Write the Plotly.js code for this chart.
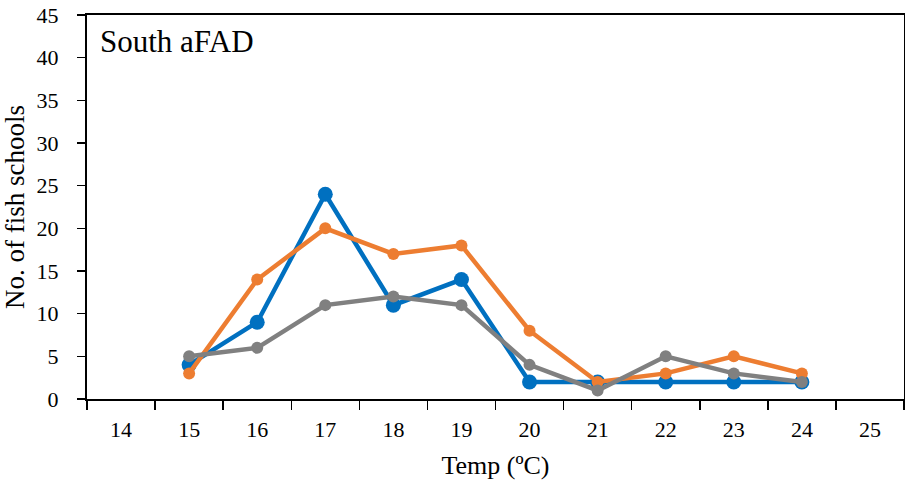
<!DOCTYPE html>
<html>
<head>
<meta charset="utf-8">
<script src="https://cdn.plot.ly/plotly-3.0.1.min.js"></script>
<style>html,body{margin:0;padding:0;background:#fff;}#chart{width:905px;height:483px;}</style>
</head>
<body>
<div id="chart"></div>
<script>
const temps = [15, 16, 17, 18, 19, 20, 21, 22, 23, 24];
const allTemps = [14, 15, 16, 17, 18, 19, 20, 21, 22, 23, 24, 25];
const seriesBlue = [4, 9, 24, 11, 14, 2, 2, 2, 2, 2];
const seriesOrange = [3, 14, 20, 17, 18, 8, 2, 3, 5, 3];
const seriesGray = [5, 6, 11, 12, 11, 4, 1, 5, 3, 2];
const yTicks = [0, 5, 10, 15, 20, 25, 30, 35, 40, 45];
const panelLabel = "South aFAD";

const font = "'Liberation Serif', 'Times New Roman', serif";

const traces = [
  {x: temps, y: seriesBlue, mode: 'lines+markers', line: {color: '#0070C0', width: 4.5}, marker: {color: '#0070C0', size: 15}, showlegend: false},
  {x: temps, y: seriesOrange, mode: 'lines+markers', line: {color: '#ED7D31', width: 4.5}, marker: {color: '#ED7D31', size: 12}, showlegend: false},
  {x: temps, y: seriesGray, mode: 'lines+markers', line: {color: '#808080', width: 4.5}, marker: {color: '#808080', size: 12}, showlegend: false}
];

const layout = {
  width: 905, height: 483,
  margin: {l: 87, r: 1, t: 15, b: 84},
  paper_bgcolor: '#fff', plot_bgcolor: '#fff',
  font: {family: font, color: '#000', size: 22},
  xaxis: {
    range: [allTemps[0] - 0.5, allTemps[allTemps.length - 1] + 0.5],
    tickvals: allTemps, ticktext: allTemps.map(String),
    ticks: '', ticklen: 0, ticklabelstandoff: 10,
    minor: {tickmode: 'linear', tick0: 13.5, dtick: 1, ticks: 'outside', ticklen: 9, tickwidth: 1.5, tickcolor: '#000', showgrid: false},
    showline: true, linecolor: '#000', linewidth: 2, mirror: true,
    showgrid: false, zeroline: false,
    tickfont: {family: font, size: 22, color: '#000'},
    title: {text: 'Temp (ºC)', font: {family: font, size: 26, color: '#000'}, standoff: 14}
  },
  yaxis: {
    range: [0, 45],
    tickvals: yTicks,
    ticks: 'outside', ticklen: 8, tickwidth: 1.5, tickcolor: '#000',
    ticklabelstandoff: 14,
    showline: true, linecolor: '#000', linewidth: 2, mirror: true,
    showgrid: false, zeroline: false,
    tickfont: {family: font, size: 22, color: '#000'},
    title: {text: 'No. of fish schools', font: {family: font, size: 27, color: '#000'}, standoff: 8}
  },
  annotations: [{
    text: panelLabel, xref: 'paper', yref: 'paper', x: 0.014, y: 0.982,
    xanchor: 'left', yanchor: 'top', showarrow: false,
    font: {family: font, size: 31, color: '#000'}
  }]
};

Plotly.newPlot('chart', traces, layout, {staticPlot: true, displayModeBar: false});
</script>
</body>
</html>
